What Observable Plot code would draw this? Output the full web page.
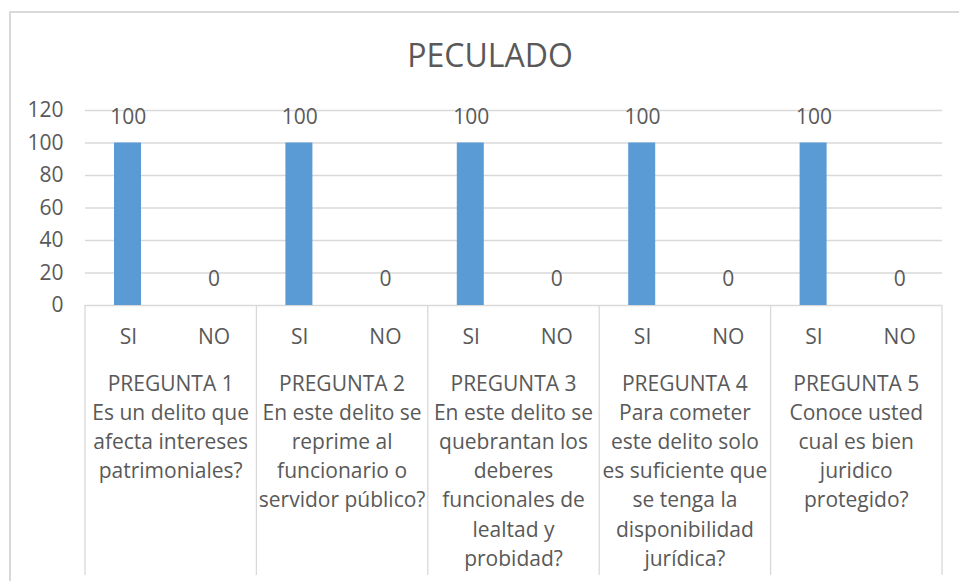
<!DOCTYPE html>
<html>
<head>
<meta charset="utf-8">
<script src="https://cdn.jsdelivr.net/npm/d3@7"></script>
<script src="https://cdn.jsdelivr.net/npm/@observablehq/plot@0.6"></script>
<style>
  html, body { margin: 0; padding: 0; background: #fff; overflow: hidden; }
  #wrap { position: relative; width: 959px; height: 581px; }
  #border { position: absolute; left: 9px; top: 11px; right: -20px; bottom: -20px;
            border-top: 2px solid #d9d9d9; border-left: 2px solid #d9d9d9; pointer-events: none; }
</style>
</head>
<body>
<div id="wrap"><div id="border"></div></div>
<script>
// ---- data ----
const title = "PECULADO";
const questions = ["PREGUNTA 1", "PREGUNTA 2", "PREGUNTA 3", "PREGUNTA 4", "PREGUNTA 5"];
const questionTexts = [
  ["Es un delito que", "afecta intereses", "patrimoniales?"],
  ["En este delito se", "reprime al", "funcionario o", "servidor público?"],
  ["En este delito se", "quebrantan los", "deberes", "funcionales de", "lealtad y", "probidad?"],
  ["Para cometer", "este delito solo", "es suficiente que", "se tenga la", "disponibilidad", "jurídica?"],
  ["Conoce usted", "cual es bien", "juridico", "protegido?"]
];
const answers = ["SI", "NO"];
const siValues = [100, 100, 100, 100, 100];
const noValues = [0, 0, 0, 0, 0];
const yTicks = [0, 20, 40, 60, 80, 100, 120];

// ---- table ----
const rows = [];
questions.forEach((q, i) => {
  rows.push({q, answer: "SI", key: q + "|SI", value: siValues[i]});
  rows.push({q, answer: "NO", key: q + "|NO", value: noValues[i]});
});
const keys = rows.map(d => d.key);

const W = 959, H = 581;
const textColor = "#595959";
const gridColor = "#d9d9d9";

const plot = Plot.plot({
  width: W,
  height: H,
  marginLeft: 85,
  marginRight: 17,
  marginTop: 110,
  marginBottom: 276,
  style: {fontFamily: "'Open Sans', sans-serif", fontSize: "21px", color: textColor, background: "transparent", overflow: "visible"},
  x: {type: "band", domain: keys, padding: 0, round: false, axis: null},
  y: {domain: [0, 120], axis: null},
  marks: [
    Plot.ruleY(yTicks, {stroke: gridColor, strokeWidth: 1.3}),
    Plot.barY(rows, {x: "key", y: "value", fill: "#5b9bd5", insetLeft: 29, insetRight: 29.7}),
    Plot.text(rows, {x: "key", y: "value", text: d => String(d.value), dy: -26, lineAnchor: "middle", fontSize: 21}),
    Plot.text(yTicks, {y: d => d, text: d => String(d), frameAnchor: "left", textAnchor: "end", dx: -22, lineAnchor: "middle", fontSize: 21}),
    Plot.text(rows, {x: "key", text: "answer", frameAnchor: "bottom", dy: 32, lineAnchor: "middle", fontSize: 21}),
    Plot.text([title], {text: d => d, frameAnchor: "top", dy: -54, dx: -24, lineAnchor: "middle", fontSize: 32})
  ]
});

document.getElementById("wrap").appendChild(plot);

// ---- category axis (group separators and question labels) via the plot's scales ----
const xs = plot.scale("x");
const ys = plot.scale("y");
const bw = typeof xs.bandwidth === "function" ? xs.bandwidth() : xs.bandwidth;
const y0 = ys.apply(0);
const svg = d3.select(plot);
const g = svg.append("g").attr("class", "cat-axis");
const sepX = questions.map(q => xs.apply(q + "|SI"));
sepX.push(xs.apply(questions[questions.length - 1] + "|NO") + bw);
g.selectAll("line").data(sepX).join("line")
  .attr("x1", d => d).attr("x2", d => d)
  .attr("y1", y0).attr("y2", H - 6)
  .attr("stroke", gridColor).attr("stroke-width", 1.3);

questions.forEach((q, i) => {
  const cx = xs.apply(q + "|SI") + bw;
  const lines = [q, ...questionTexts[i]];
  lines.forEach((line, j) => {
    g.append("text")
      .attr("x", cx)
      .attr("y", y0 + 78 + j * 29.2)
      .attr("dy", "0.36em")
      .attr("text-anchor", "middle")
      .attr("fill", textColor)
      .attr("font-size", 21)
      .text(line);
  });
});
</script>
</body>
</html>
